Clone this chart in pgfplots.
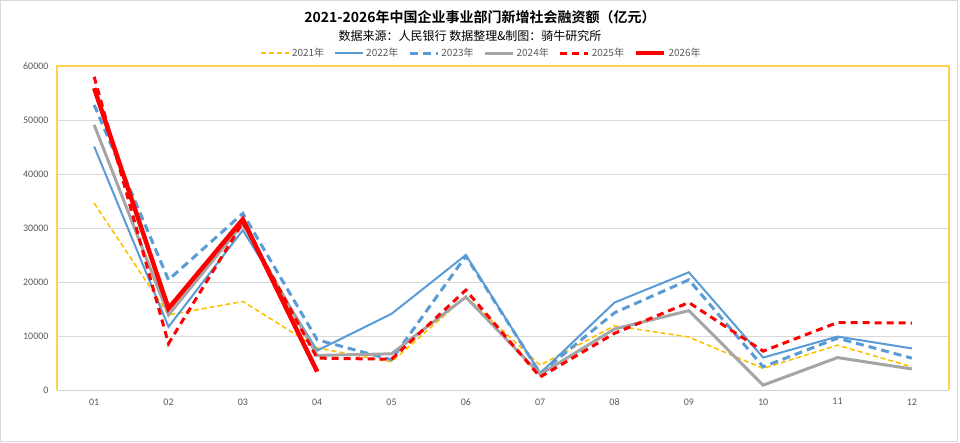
\documentclass[border=0pt]{standalone}
\usepackage{pgfplots}
\pgfplotsset{compat=1.18}
\usepackage{fontspec}
\setmainfont{Carlito}
\newfontfamily\cjk{Noto Sans CJK SC}
\newfontfamily\cjkb{Noto Sans CJK SC Bold}
\definecolor{cy}{HTML}{FFC000}
\definecolor{cb}{HTML}{5B9BD5}
\definecolor{cg}{HTML}{A5A5A5}
\definecolor{cr}{HTML}{FF0000}
\definecolor{frame}{HTML}{FFD24F}
\definecolor{txt}{HTML}{595959}
\begin{document}
\begin{tikzpicture}[x=1pt,y=1pt]
\path[draw=gray!30,line width=1pt] (0.5,0.5) rectangle (957.5,441.5);
\path (0,0) rectangle (960,442);
\node[font=\cjkb\fontsize{14}{16}\selectfont] at (480,425) {2021-2026年中国企业事业部门新增社会融资额（亿元）};
\node[font=\cjk\fontsize{12}{14}\selectfont] at (470,406.5) {数据来源：人民银行 数据整理\&制图：骑牛研究所};
\begin{axis}[
  at={(57pt,52pt)}, anchor=south west,
  scale only axis, width=892pt, height=324pt,
  xmin=0.5, xmax=12.5, ymin=0, ymax=60000,
  xtick={1,...,12},
  xticklabels={01,02,03,04,05,06,07,08,09,10,11,12},
  ytick={0,10000,...,60000},
  scaled y ticks=false,
  /pgf/number format/fixed,
  /pgf/number format/1000 sep={},
  /pgf/number format/assume math mode=true,
  tick label style={font=\fontsize{10}{11}\selectfont, text=txt},
  xticklabel style={yshift=-5pt},
  yticklabel style={xshift=-5pt},
  major tick length=0pt,
  ymajorgrids, grid style={draw=gray!30, line width=0.8pt},
  axis line style={draw=none},
  legend columns=6,
  legend style={at={(0.476,1.040)}, anchor=center, draw=none, fill=none,
    font=\cjk\fontsize{10}{11}\selectfont, text=txt,
    /tikz/every even column/.append style={column sep=8pt},
    inner sep=0pt},
  legend image code/.code={\draw[#1] (0pt,0pt) -- (28pt,0pt);},
  clip=false,
]
\draw[frame, line width=1.5pt] (rel axis cs:0,0) -- (rel axis cs:0,1) -- (rel axis cs:1,1) -- (rel axis cs:1,0);
\draw[gray!35, line width=1pt] (rel axis cs:0,0) -- (rel axis cs:1,0);
\addplot[cy, line width=1.6pt, dash pattern=on 5pt off 3pt] coordinates {
(1,34600) (2,13900) (3,16400) (4,7800) (5,5200) (6,17300) (7,4600) (8,11900) (9,9800) (10,4000) (11,8300) (12,4300)};
\addlegendentry{2021年}
\addplot[cb, line width=2pt] coordinates {
(1,45100) (2,11700) (3,29600) (4,7300) (5,14100) (6,25000) (7,3100) (8,16200) (9,21800) (10,6000) (11,9900) (12,7700)};
\addlegendentry{2022年}
\addplot[cb, line width=3pt, dash pattern=on 8pt off 5pt] coordinates {
(1,52800) (2,20400) (3,32700) (4,9300) (5,5600) (6,24800) (7,3100) (8,14300) (9,20400) (10,4300) (11,9600) (12,5900)};
\addlegendentry{2023年}
\addplot[cg, line width=3pt] coordinates {
(1,49100) (2,13900) (3,30800) (4,6400) (5,6700) (6,17200) (7,2900) (8,11300) (9,14700) (10,900) (11,6000) (12,3900)};
\addlegendentry{2024年}
\addplot[cr, line width=3pt, dash pattern=on 7pt off 5pt] coordinates {
(1,58000) (2,8600) (3,31000) (4,5900) (5,5700) (6,18500) (7,2400) (8,10500) (9,16200) (10,7200) (11,12500) (12,12400)};
\addlegendentry{2025年}
\addplot[cr, line width=4.5pt] coordinates {
(1,55900) (2,15100) (3,31600) (4,3400)};
\addlegendentry{2026年}
\end{axis}
\end{tikzpicture}
\end{document}
